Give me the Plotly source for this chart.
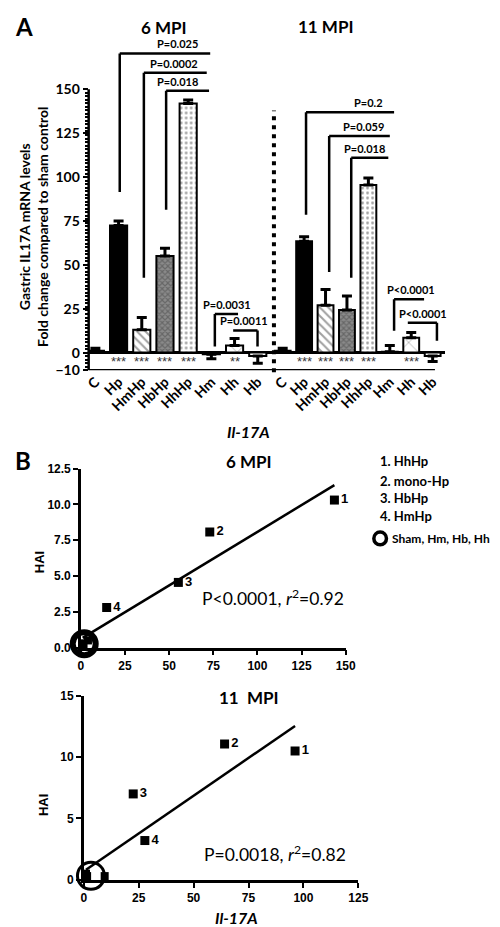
import numpy as np
import plotly.graph_objects as go

# ---------------- data ----------------
groups = ["C", "Hp", "HmHp", "HbHp", "HhHp", "Hm", "Hh", "Hb"]
il17_6mpi = [1, 72.5, 13, 55, 142, -1, 4, -2]
err_6mpi = [1.5, 2.5, 7, 4.5, 2, 2.5, 4, 4]
il17_11mpi = [1, 63.5, 27, 24.3, 95.5, 0.5, 8.5, -2]
err_11mpi = [1.5, 2.5, 9, 8, 4, 3.5, 3, 3]
stars_6mpi = ["", "***", "***", "***", "***", "", "**", ""]
stars_11mpi = ["", "***", "***", "***", "***", "", "***", ""]

# significance brackets: axis, x_left, x_right, level, x_drop, drop_to, label, label_x, label_anchor
brackets = [
    ("x", 1.05, 4.95, 170.5, 1.05, 91.5, "P=0.025", 4.52, "right"),
    ("x", 2.09, 4.80, 159.5, 2.09, 42.7, "P=0.0002", 4.52, "right"),
    ("x", 3.05, 4.90, 149.2, 3.05, 81.4, "P=0.018", 4.52, "right"),
    ("x", 5.15, 6.15, 22.0, 5.15, 3.5, "P=0.0031", 5.66, "center"),
    ("x", 5.94, 6.99, 12.6, 6.99, 3.5, "P=0.0011", 6.40, "center"),
    ("x2", 1.09, 5.20, 136.9, 1.09, 78.6, "P=0.2", 4.78, "right"),
    ("x2", 2.17, 5.00, 123.4, 2.17, 46.0, "P=0.059", 4.83, "right"),
    ("x2", 3.20, 4.93, 111.0, 3.20, 42.7, "P=0.018", 4.88, "right"),
    ("x2", 5.20, 6.60, 30.4, 5.20, 12.4, "P<0.0001", 6.00, "center"),
    ("x2", 5.84, 7.20, 17.0, 7.20, 6.8, "P<0.0001", 6.53, "center"),
]

# panel B
pt_labels = ["1", "2", "3", "4"]
legend_names = ["1. HhHp", "2. mono-Hp", "3. HbHp", "4. HmHp"]
il17_pts_6 = [143.6, 73, 55.2, 14.6]
hai_pts_6 = [10.3, 8.07, 4.55, 2.8]
il17_ctrl_6 = [1, 1, 1.5, 4]          # Sham, Hm, Hb, Hh
hai_ctrl_6 = [0.1, 0.3, 0.2, 0.5]
il17_pts_11 = [96.2, 64.1, 22.5, 27.8]
hai_pts_11 = [10.5, 11.07, 7.0, 3.2]
il17_ctrl_11 = [1, 1, 1.5, 9.5]
hai_ctrl_11 = [0.2, 0.5, 0.3, 0.3]

# ---------------- styles ----------------
LATO = "Lato, 'Open Sans', sans-serif"
ARIAL = "'Liberation Sans', Arial, sans-serif"
W, H = 500, 927


def px(x):
    return x / W


def py(y):
    return 1 - y / H


bar_color = ["black", "black", "white", "#8a8a8a", "white", "black", "white", "white"]
pat_shape = ["", "", "\\", "x", ".", "", "x", ""]
pat_fg = ["black", "black", "black", "black", "#444444", "black", "#888888", "black"]
pat_size = [8, 8, 6, 4, 5, 8, 14, 8]
pat_sol = [0.3, 0.3, 0.35, 0.5, 0.25, 0.3, 0.1, 0.3]

fig = go.Figure()


def add_bars(vals, errs, xa):
    up = [e if v >= 0 else 0 for v, e in zip(vals, errs)]
    down = [0 if v >= 0 else e for v, e in zip(vals, errs)]
    fig.add_trace(go.Bar(
        x=groups, y=vals, xaxis=xa, yaxis="y", width=0.74,
        marker=dict(color=bar_color, line=dict(color="black", width=2),
                    pattern=dict(shape=pat_shape, fgcolor=pat_fg, size=pat_size,
                                 solidity=pat_sol, fillmode="overlay")),
        error_y=dict(type="data", symmetric=False, array=up, arrayminus=down,
                     color="black", thickness=3, width=5),
        showlegend=False, hoverinfo="skip"))


add_bars(il17_6mpi, err_6mpi, "x")
add_bars(il17_11mpi, err_11mpi, "x2")

shapes = []
annos = []

for ax, stars in (("x", stars_6mpi), ("x2", stars_11mpi)):
    for i, s in enumerate(stars):
        if s:
            annos.append(dict(x=i, y=-4.8, xref=ax, yref="y", text=s, showarrow=False,
                              font=dict(family=ARIAL, size=13, color="#333")))

for ax, xl, xr, lev, xd, dt, lab, lx, anc in brackets:
    ln = dict(color="black", width=2.5)
    shapes.append(dict(type="line", xref=ax, yref="y", x0=xl, x1=xr, y0=lev, y1=lev, line=ln))
    shapes.append(dict(type="line", xref=ax, yref="y", x0=xd, x1=xd, y0=dt, y1=lev, line=ln))
    annos.append(dict(x=lx, y=lev, xref=ax, yref="y", text=lab, showarrow=False,
                      xanchor=anc, yanchor="bottom", yshift=1,
                      font=dict(family=LATO, size=11, color="black", weight="bold")))

# axis lines of panel A
shapes.append(dict(type="line", xref="paper", yref="y", x0=px(78), x1=px(78), y0=-10, y1=150,
                   line=dict(color="black", width=2.5)))
shapes.append(dict(type="line", xref="paper", yref="y", x0=px(78), x1=px(435), y0=-10, y1=-10,
                   line=dict(color="black", width=2.5)))
# dotted separator
shapes.append(dict(type="line", xref="paper", yref="paper", x0=px(269), x1=px(269),
                   y0=py(363), y1=py(97), line=dict(color="black", width=4, dash="4px,5px")))


# ---------------- panel B ----------------
def add_scatter(xp, yp, xc, yc, xa, ya, circ_size, circ_w):
    fig.add_trace(go.Scatter(x=xp, y=yp, xaxis=xa, yaxis=ya, mode="markers+text",
                             text=pt_labels, textposition="middle right",
                             textfont=dict(family=ARIAL, size=13, color="black", weight="bold"),
                             marker=dict(symbol="square", size=9, color="black"),
                             cliponaxis=False, showlegend=False, hoverinfo="skip"))
    fig.add_trace(go.Scatter(x=xc, y=yc, xaxis=xa, yaxis=ya, mode="markers",
                             marker=dict(symbol="square", size=8, color="black"),
                             cliponaxis=False, showlegend=False, hoverinfo="skip"))
    fig.add_trace(go.Scatter(x=[np.mean(xc)], y=[np.mean(yc)], xaxis=xa, yaxis=ya, mode="markers",
                             marker=dict(symbol="circle-open", size=circ_size, color="black",
                                         line=dict(width=circ_w, color="black")),
                             cliponaxis=False, showlegend=False, hoverinfo="skip"))
    allx = np.array(xp + xc, dtype=float)
    ally = np.array(yp + yc, dtype=float)
    slope, icpt = np.polyfit(allx, ally, 1)
    lx = np.array([allx.min(), allx.max()])
    fig.add_trace(go.Scatter(x=lx, y=icpt + slope * lx, xaxis=xa, yaxis=ya, mode="lines",
                             line=dict(color="black", width=2.5), cliponaxis=False,
                             showlegend=False, hoverinfo="skip"))


add_scatter(il17_pts_6, hai_pts_6, il17_ctrl_6, hai_ctrl_6, "x3", "y3", 23, 6)
add_scatter(il17_pts_11, hai_pts_11, il17_ctrl_11, hai_ctrl_11, "x4", "y4", 27, 3)


def paper_text(x, y, text, size, family=LATO, weight="bold", anchor="center", angle=0):
    annos.append(dict(x=px(x), y=py(y), xref="paper", yref="paper", text=text, showarrow=False,
                      xanchor=anchor, yanchor="middle", textangle=angle,
                      font=dict(family=family, size=size, color="black", weight=weight)))


paper_text(0, 12, "A", 24, anchor="left")
paper_text(0, 453, "B", 24, anchor="left")
paper_text(156, 13, "6 MPI", 17)
paper_text(322, 12, "11 MPI", 17)
paper_text(243, 423, "<i>Il-17A</i>", 16)
paper_text(21, 215, "Gastric IL17A mRNA levels<br>Fold change compared to sham control", 14, angle=-90)
paper_text(243, 454, "6 MPI", 17)
paper_text(243, 694, "11  MPI", 17)
paper_text(27, 556, "HAI", 13, family=ARIAL, angle=-90)
paper_text(31, 803, "HAI", 13, family=ARIAL, angle=-90)
paper_text(230, 917, "<i>Il-17A</i>", 16)
paper_text(193, 592, "P<0.0001, <i>r</i><sup>2</sup>=0.92", 17.5, weight="normal", anchor="left")
paper_text(195, 852, "P=0.0018, <i>r</i><sup>2</sup>=0.82", 17.5, weight="normal", anchor="left")
for k, name in enumerate(legend_names):
    paper_text(376, [453, 474, 491, 509][k], name, 13, anchor="left")
paper_text(389, 532, "Sham, Hm, Hb, Hh", 12, anchor="left")
shapes.append(dict(type="circle", xref="paper", yref="paper", x0=px(372), x1=px(385),
                   y0=py(538.5), y1=py(525.5), line=dict(color="black", width=3.5)))

tickA = dict(family=LATO, size=14, color="black", weight="bold")
tickB = dict(family=ARIAL, size=12, color="black", weight="bold")

fig.update_layout(
    width=W, height=H, margin=dict(l=0, r=0, t=0, b=0),
    paper_bgcolor="white", plot_bgcolor="white",
    shapes=shapes, annotations=annos,
    xaxis=dict(domain=[px(78), px(265)], anchor="y", type="category", range=[-0.29, 7.53],
               tickangle=-45, tickfont=tickA, showgrid=False, ticks="", showline=False),
    xaxis2=dict(domain=[px(265), px(445)], anchor="y", type="category", range=[-0.59, 7.56],
                tickangle=-45, tickfont=tickA, showgrid=False, ticks="", showline=False),
    yaxis=dict(domain=[py(361), py(31)], anchor="x", range=[-10, 175],
               tickvals=[-10, 0, 25, 50, 75, 100, 125, 150], tickfont=tickA,
               ticks="outside", ticklen=5, tickwidth=2, tickcolor="black",
               minor=dict(tickmode="array", tickvals=list(range(-10, 151, 2)), ticks="outside",
                          ticklen=3, tickwidth=1.5, tickcolor="black", showgrid=False),
               showgrid=False, showline=False,
               zeroline=True, zerolinecolor="black", zerolinewidth=2.5),
    xaxis3=dict(domain=[px(70), px(343)], anchor="y3", range=[0, 150], tickvals=list(range(0, 151, 25)),
                tickfont=tickB, ticks="outside", ticklen=5, tickwidth=2, tickcolor="black",
                showline=True, linecolor="black", linewidth=2.5, showgrid=False, zeroline=False),
    yaxis3=dict(domain=[py(643), py(461)], anchor="x3", range=[0, 12.5], dtick=2.5, tick0=0,
                tickformat=".1f", tickfont=tickB, ticks="outside", ticklen=5, tickwidth=2,
                tickcolor="black", showline=True, linecolor="black", linewidth=2.5,
                showgrid=False, zeroline=False),
    xaxis4=dict(domain=[px(73), px(356)], anchor="y4", range=[0, 125], tickvals=list(range(0, 126, 25)),
                tickfont=tickB, ticks="outside", ticklen=5, tickwidth=2, tickcolor="black",
                showline=True, linecolor="black", linewidth=2.5, showgrid=False, zeroline=False),
    yaxis4=dict(domain=[py(879), py(692)], anchor="x4", range=[0, 15], dtick=5, tick0=0,
                tickfont=tickB, ticks="outside", ticklen=5, tickwidth=2,
                tickcolor="black", showline=True, linecolor="black", linewidth=2.5,
                showgrid=False, zeroline=False),
)

fig.write_html("out.html")
